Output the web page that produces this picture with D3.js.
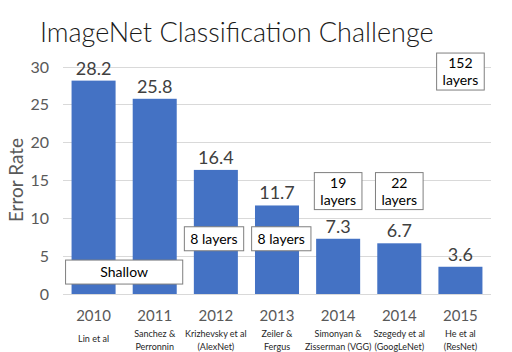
<!DOCTYPE html>
<html><head><meta charset="utf-8">
<script src="https://cdn.jsdelivr.net/npm/d3@7"></script>
<style>body{margin:0;background:#fff}svg{display:block}text{font-family:Lato,"Open Sans",sans-serif}</style>
</head><body><svg id="c" width="512" height="352"></svg>
<script>
const years = ["2010","2011","2012","2013","2014","2014","2015"];
const authors = [["Lin et al"],["Sanchez &","Perronnin"],["Krizhevsky et al","(AlexNet)"],["Zeiler &","Fergus"],["Simonyan &","Zisserman (VGG)"],["Szegedy et al","(GoogLeNet)"],["He et al","(ResNet)"]];
const errorRates = [28.2,25.8,16.4,11.7,7.3,6.7,3.6];
const yTicks = [0,5,10,15,20,25,30];
// annotations: centre position in category units, centre value, text lines
const annoX    = [0.5,1.97,3.07,4,5,6];
const annoY    = [2.9,7.3,7.3,13.6,13.6,29.4];
const annoText = [["Shallow"],["8 layers"],["8 layers"],["19","layers"],["22","layers"],["152","layers"]];

const svg = d3.select("#c");
const x = d3.scaleBand().domain(d3.range(years.length)).range([63,491]).paddingInner(0.28).paddingOuter(0.14);
const y = d3.scaleLinear().domain([0,30]).range([294,67]);
const xc = v => x(0) + x.bandwidth()/2 + v*x.step();

svg.append("text").attr("x",40).attr("y",42).attr("font-size",27).attr("font-weight",300).attr("fill","#1a1a1a").text("ImageNet Classification Challenge");

svg.append("g").selectAll("line").data(yTicks).join("line")
  .attr("x1",63).attr("x2",491).attr("y1",d=>y(d)).attr("y2",d=>y(d))
  .attr("stroke","#d9d9d9").attr("stroke-width",1).attr("shape-rendering","crispEdges");

const ya = svg.append("g").attr("transform","translate(63,0)").call(d3.axisLeft(y).tickValues(yTicks).tickSize(0).tickPadding(14));
ya.select(".domain").remove();
ya.selectAll("text").attr("font-size",16).attr("fill","#595959").style("font-family","Lato");

svg.append("text").attr("transform","translate(23,180) rotate(-90)").attr("text-anchor","middle")
  .attr("font-size",19).attr("fill","#595959").text("Error Rate");

svg.append("g").selectAll("rect").data(errorRates).join("rect")
  .attr("x",(d,i)=>x(i)).attr("width",x.bandwidth()).attr("y",d=>y(d)).attr("height",d=>y(0)-y(d)).attr("fill","#4472C4");

svg.append("g").selectAll("text").data(errorRates).join("text")
  .attr("x",(d,i)=>x(i)+x.bandwidth()/2).attr("y",d=>y(d)-6).attr("text-anchor","middle")
  .attr("font-size",18).attr("fill","#404040").text(d=>d.toFixed(1));

svg.append("g").selectAll("text").data(years).join("text")
  .attr("x",(d,i)=>x(i)+x.bandwidth()/2).attr("y",321).attr("text-anchor","middle")
  .attr("font-size",15).attr("fill","#595959").text(d=>d);

const ag = svg.append("g").selectAll("text").data(authors).join("text")
  .attr("text-anchor","middle").attr("font-size",9).attr("fill","#262626");
ag.each(function(lines,i){
  const t=d3.select(this);
  const cx=x(i)+x.bandwidth()/2;
  const y0 = lines.length===1?342:337;
  lines.forEach((l,j)=>t.append("tspan").attr("x",cx).attr("y",y0+j*12.5).text(l));
});

// annotation boxes
const an = svg.append("g").selectAll("g").data(annoText).join("g");
an.each(function(lines,i){
  const g=d3.select(this);
  const cx=xc(annoX[i]);
  const cy=y(annoY[i]);
  const t=g.append("text").attr("text-anchor","middle").attr("font-size",14).attr("fill","#000");
  const lh=17;
  lines.forEach((l,j)=>t.append("tspan").attr("x",cx).attr("y",cy+5+(j-(lines.length-1)/2)*lh).text(l));
  const bb=t.node().getBBox();
  let w = i===0 ? x.step()+x.bandwidth()+12 : bb.width+12;
  const h = lines.length===1?24:37;
  g.insert("rect","text").attr("x",cx-w/2).attr("y",cy-h/2).attr("width",w).attr("height",h)
   .attr("fill","#fff").attr("stroke","#7f7f7f").attr("stroke-width",1);
});
</script></body></html>
